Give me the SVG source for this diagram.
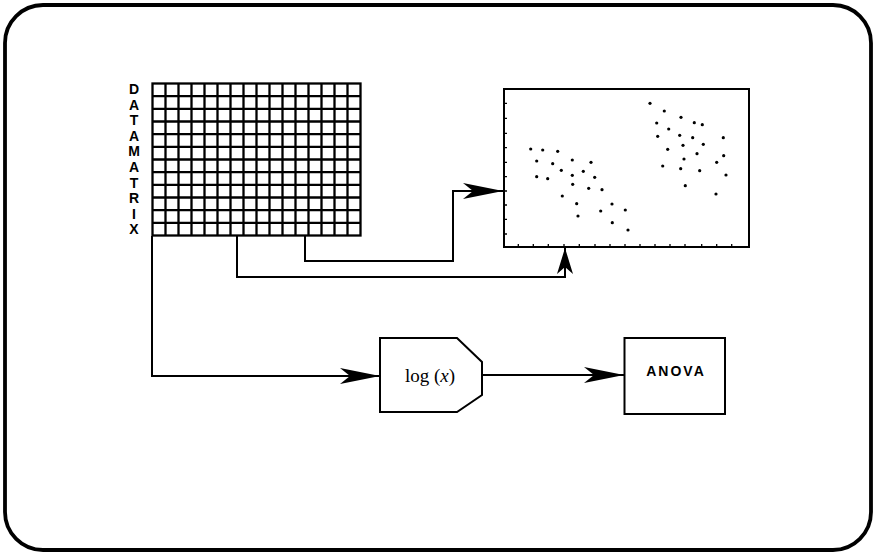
<svg xmlns="http://www.w3.org/2000/svg" width="878" height="554" viewBox="0 0 878 554">
<style>
.ln{fill:none;stroke:#000;stroke-width:2}
.gr{fill:none;stroke:#000;stroke-width:2.3}
.dt{fill:#000}
.lab{font-family:"Liberation Sans",Arial,sans-serif;font-weight:bold;font-size:14px;fill:#000}
.tk{stroke:#000;stroke-width:1.3}
</style>
<defs>
<marker id="ah" viewBox="0 0 40 16" refX="40" refY="8" markerWidth="40" markerHeight="16" markerUnits="userSpaceOnUse" orient="auto">
<path d="M0,0 L40,8 L0,16 L10,8 Z" fill="#000"/>
</marker>
<marker id="ahs" viewBox="0 0 26 16" refX="26" refY="8" markerWidth="26" markerHeight="16" markerUnits="userSpaceOnUse" orient="auto">
<path d="M0,0 L26,8 L0,16 L7,8 Z" fill="#000"/>
</marker>
</defs>
<rect x="5" y="5" width="866" height="545" rx="38" ry="38" fill="none" stroke="#000" stroke-width="3.8"/>

<g id="datamatrix">
<rect x="152.5" y="83.5" width="208" height="152" class="gr"/>
<path class="gr" d="M165.5,83.5V235.5M178.5,83.5V235.5M191.5,83.5V235.5M204.5,83.5V235.5M217.5,83.5V235.5M230.5,83.5V235.5M243.5,83.5V235.5M256.5,83.5V235.5M269.5,83.5V235.5M282.5,83.5V235.5M295.5,83.5V235.5M308.5,83.5V235.5M321.5,83.5V235.5M334.5,83.5V235.5M347.5,83.5V235.5
M152.5,96.2H360.5M152.5,108.8H360.5M152.5,121.5H360.5M152.5,134.2H360.5M152.5,146.8H360.5M152.5,159.5H360.5M152.5,172.2H360.5M152.5,184.8H360.5M152.5,197.5H360.5M152.5,210.2H360.5M152.5,222.8H360.5"/>
<g class="lab" text-anchor="middle">
<text x="134" y="94">D</text>
<text x="134" y="109.6">A</text>
<text x="134" y="125.2">T</text>
<text x="134" y="140.8">A</text>
<text x="134" y="156.4">M</text>
<text x="134" y="172">A</text>
<text x="134" y="187.6">T</text>
<text x="134" y="203.2">R</text>
<text x="134" y="218.8">I</text>
<text x="134" y="234.4">X</text>
</g>
</g>

<g id="scatter">
<rect x="504" y="89" width="245" height="158" fill="none" stroke="#000" stroke-width="2"/>
<path class="tk" d="M504,103.3h3M504,118.3h3M504,133.3h3M504,147.7h3M504,162.3h3M504,176.7h3M504,191h3M504,205h3M504,219.3h3M504,234h3
M518.3,247v-3M533.3,247v-3M548.3,247v-3M564,247v-3M579.3,247v-3M595,247v-3M610,247v-3M625,247v-3M640,247v-3M655,247v-3M670,247v-3M685,247v-3M701.7,247v-3M716.7,247v-3M731.7,247v-3"/>
<g class="dt">
<circle cx="530.7" cy="149" r="1.6"/><circle cx="542.7" cy="150" r="1.6"/><circle cx="557.7" cy="151.3" r="1.6"/>
<circle cx="536.7" cy="161" r="1.6"/><circle cx="552.7" cy="163.7" r="1.6"/><circle cx="572.3" cy="160" r="1.6"/>
<circle cx="591" cy="162.3" r="1.6"/><circle cx="561.3" cy="170.3" r="1.6"/><circle cx="583.3" cy="171.3" r="1.6"/>
<circle cx="572.3" cy="175.3" r="1.6"/><circle cx="594.7" cy="177.3" r="1.6"/><circle cx="536.7" cy="176.7" r="1.6"/>
<circle cx="547.7" cy="178.7" r="1.6"/><circle cx="572.7" cy="184.3" r="1.6"/><circle cx="588.7" cy="188.3" r="1.6"/>
<circle cx="602" cy="189.7" r="1.6"/><circle cx="562.3" cy="196" r="1.6"/><circle cx="576.7" cy="203.7" r="1.6"/>
<circle cx="612" cy="204" r="1.6"/><circle cx="600.7" cy="211" r="1.6"/><circle cx="625.3" cy="210" r="1.6"/>
<circle cx="578" cy="216" r="1.6"/><circle cx="612.3" cy="222.7" r="1.6"/><circle cx="628" cy="230" r="1.6"/>
<circle cx="650" cy="103.3" r="1.6"/><circle cx="664.3" cy="111" r="1.6"/><circle cx="681" cy="117.3" r="1.6"/>
<circle cx="656.7" cy="123" r="1.6"/><circle cx="694.3" cy="122.7" r="1.6"/><circle cx="702.3" cy="124.7" r="1.6"/>
<circle cx="668.7" cy="129" r="1.6"/><circle cx="657.7" cy="136.3" r="1.6"/><circle cx="679.7" cy="135.3" r="1.6"/>
<circle cx="692.7" cy="137.7" r="1.6"/><circle cx="723.3" cy="137.7" r="1.6"/><circle cx="683" cy="145.3" r="1.6"/>
<circle cx="703.3" cy="144.3" r="1.6"/><circle cx="667.7" cy="149.3" r="1.6"/><circle cx="697" cy="153.7" r="1.6"/>
<circle cx="723.7" cy="155.7" r="1.6"/><circle cx="684" cy="159" r="1.6"/><circle cx="716.7" cy="162.3" r="1.6"/>
<circle cx="662.7" cy="166" r="1.6"/><circle cx="680.7" cy="168.7" r="1.6"/><circle cx="699.7" cy="170.7" r="1.6"/>
<circle cx="726" cy="175" r="1.6"/><circle cx="685.3" cy="185.7" r="1.6"/><circle cx="716" cy="194" r="1.6"/>
</g>
</g>

<g id="log">
<path d="M380,338 H457 L482,362 V395 L457,412 H380 Z" fill="none" stroke="#000" stroke-width="2"/>
<text x="430" y="382" text-anchor="middle" font-family="'Liberation Serif','Times New Roman',serif" font-size="19">log (<tspan font-style="italic">x</tspan>)</text>
</g>

<g id="anova">
<rect x="624.5" y="338" width="100.5" height="76" fill="none" stroke="#000" stroke-width="2"/>
<text x="676" y="376" text-anchor="middle" class="lab" font-size="15" letter-spacing="2">ANOVA</text>
</g>

<g id="connectors">
<path class="ln" d="M305,236 V261 H453 V191 H503" marker-end="url(#ah)"/>
<path class="ln" d="M237,236 V277 H565 V248" marker-end="url(#ahs)"/>
<path class="ln" d="M152,236 V376 H380" marker-end="url(#ah)"/>
<path class="ln" d="M482,375 H624" marker-end="url(#ah)"/>
</g>
</svg>
